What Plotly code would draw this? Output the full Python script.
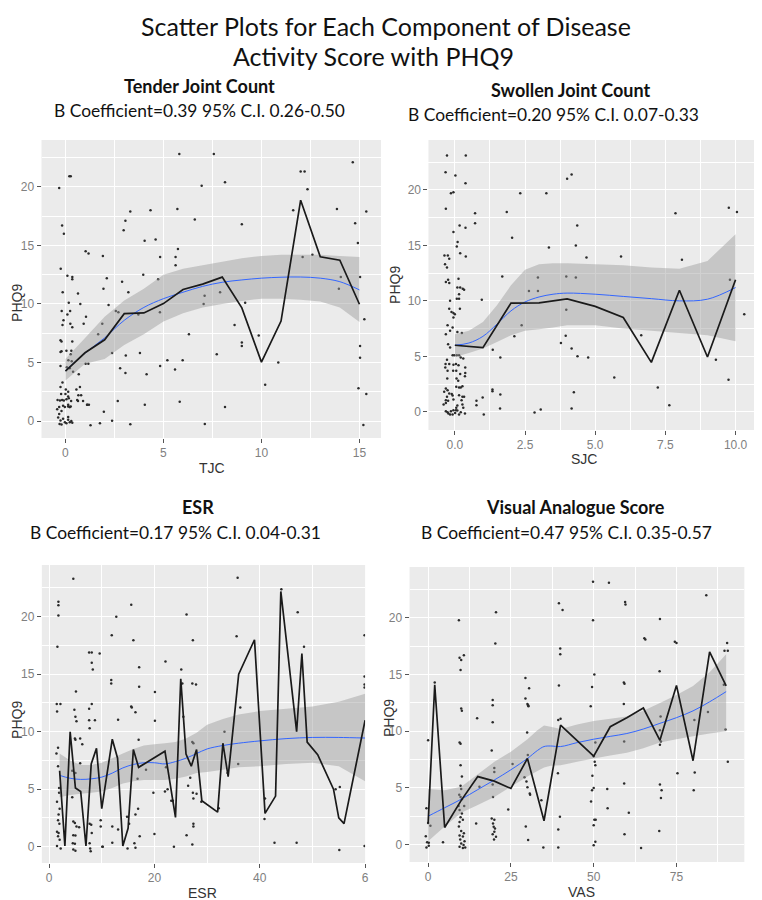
import plotly.graph_objects as go

# ---------------- data: Tender Joint Count ----------------
tjc_x = [-0.32, 0.2, 0.27, -0.17, -0.08, -0.24, 0.1, 0.35, 0.35, -0.14, 0.17, 0.76, -0.19, 0.24, 0.1, -0.1,
         -0.15, 0.25, 0.35, 0.93, -0.25, -0.2, 0.35, -0.25, -0.2, 0.05, 0.3, 0.27, 0.15, 0.32, -0.25, 0.07,
         0.22, 0.39, 0.68, 1.03, 1.17, 1.05, 0.64, 1.03, 1.18, -0.15, -0.25, 0.02, 0.14, -0.22, 0.0, 0.14,
         0.17, 0.29, -0.4, -0.28, -0.17, -0.08, 0.05, -0.32, 0.14, 0.22, 0.56, 0.74, 0.66, 0.6, 1.1, 1.2,
         -0.37, -0.25, -0.12, -0.03, 0.14, 0.22, 0.3, -0.3, -0.2, 0.05, -0.42, -0.32, -0.2, -0.12, -0.03, 0.14,
         0.22, 0.27, 0.64, 0.8, 0.9, 1.12, 0.14, 0.35,
         2.67, 1.88, 2.2, 1.94, 2.11, 1.91, 1.67, 2.38, 2.57, 2.7, 2.79, 3.06, 3.08, 2.89, 3.21, 2.97, 3.06,
         3.31, 3.72, 3.8, 3.97, 4.04, 4.05, 4.14, 4.34, 4.6, 4.73, 4.83, 4.83, 4.82, 5.2, 5.59, 5.62, 5.62,
         5.74, 5.71, 5.81, 5.98, 5.83, 6.3, 6.6, 6.95, 7.05, 7.1, 7.57, 7.72, 7.89, 8.14, 8.14, 8.63, 9.0, 9.0,
         9.0, 9.17, 9.86, 10.19, 10.86, 11.62, 12.1, 12.0, 12.2, 12.35, 12.6, 13.85, 13.95, 14.05, 14.66,
         14.78, 14.92, 15.03, 15.35, 15.25, 15.03, 15.03, 14.95, 15.35, 1.96, 2.38, 1.28, 1.76, 3.31, 7.11,
         15.2]
tjc_y = [19.9, 20.9, 20.9, 16.7, 16.0, 13.0, 12.4, 12.3, 12.1, 11.0, 10.1, 10.0, 9.4, 9.4, 9.1, 8.6,
         8.2, 8.3, 8.0, 8.3, 6.9, 6.8, 6.8, 5.9, 5.95, 6.0, 6.0, 5.7, 5.2, 5.1, 4.7, 4.6,
         4.5, 4.2, 4.0, 4.9, 4.9, 8.9, 10.9, 14.5, 14.3, 3.3, 2.9, 2.7, 2.5, 2.3, 2.3, 2.1,
         1.95, 1.7, 1.8, 1.75, 1.8, 1.75, 1.85, 1.2, 1.25, 1.2, 2.7, 2.9, 2.2, 1.8, 1.4, 1.4,
         0.3, 0.05, 0.2, -0.1, 0.1, -0.1, 0.0, -0.25, -0.3, -0.2, 1.0, 0.6, 0.85, 1.3, 1.2, 1.4,
         1.2, 1.25, 1.7, 2.2, 1.7, 1.4, 0.35, -0.15,
         1.7, 8.3, 9.9, 11.3, 12.2, 14.1, 7.4, 5.8, 9.4, 9.3, 4.5, 4.1, 5.6, 11.9, 11.0, 16.3, 17.1,
         17.9, 9.1, 5.8, 12.5, 15.4, 1.4, 4.0, 18.0, 15.5, 12.1, 14.0, 4.7, 9.3, 5.2, 4.4, 14.0, 13.3,
         14.7, 18.1, 22.8, 5.2, 1.65, 7.4, 17.2, 20.1, 10.0, 10.7, 22.8, 5.7, 11.0, 20.4, 1.2, 8.2, 16.8, 6.7,
         6.4, 10.1, 7.3, 3.1, 5.0, 18.0, 14.0, 21.3, 21.3, 19.8, 14.2, 18.1, 11.3, 12.3, 22.1,
         16.9, 15.2, 12.3, 17.9, 8.7, 6.4, 5.4, 2.8, 2.3, 0.8, 0.03, -0.37, -0.2, -0.28, -0.26,
         -0.34]
tjc_mean_x = list(range(16))
tjc_mean_y = [4.26, 5.83, 6.94, 9.17, 9.23, 10.03, 11.23, 11.69, 12.29, 9.66, 5.03, 8.54, 18.86, 14.03, 13.74, 9.97]
tjc_fit_x = list(range(16))
tjc_fit_y = [4.3, 5.8, 7.1, 8.6, 9.7, 10.45, 11.0, 11.5, 11.85, 12.05, 12.2, 12.28, 12.3, 12.2, 11.9, 11.2]
tjc_hi = [5.3, 7.1, 8.9, 10.3, 11.3, 12.5, 13.0, 13.3, 13.6, 13.9, 14.1, 14.2, 14.2, 14.2, 14.1, 14.0]
tjc_lo = [3.45, 4.9, 5.3, 6.5, 7.4, 8.5, 9.2, 9.7, 10.0, 10.25, 10.45, 10.45, 10.35, 10.2, 9.7, 8.45]

# ---------------- data: Swollen Joint Count ----------------
sjc_x = [-0.28, 0.39, -0.33, 0.02, 0.38, -0.14, -0.05, 2.33, 3.26, -0.32, 0.72, 1.85, 0.17, 0.38, 0.72, -0.05,
         2.04, 0.1, 0.07, 0.19, 0.39, -0.37, -0.25, -0.2, -0.35, -0.28, 1.69, 3.35, 4.0, 4.16, 4.36, 4.31,
         4.69, 3.97, 4.31, 2.96, 2.96, 2.64, 0.96, 5.92, 7.86, 8.09, 9.76, 10.05, 9.8, 10.31, 9.75, 9.3,
         6.64, 5.68, 7.23, 7.64, 3.97, 3.95, 3.78, 4.16, 4.37, 4.75, 4.24, 2.38, 2.12, 1.35, 1.62, 1.34,
         1.34, 1.62, 0.77, 0.99, 0.77, 1.61, 3.06, 4.16, 1.03, 2.84,
         -0.32, -0.24, -0.2, 0.13, 0.09, 0.19, 0.28, 0.33, 0.15, 0.07, 0.15, -0.17, -0.2, -0.12, -0.05, 0.0,
         -0.05, 0.18, -0.26, -0.08, -0.17, 0.09, 0.25, -0.32, -0.24, -0.17, -0.08, -0.02, 0.07, 0.15, 0.21,
         0.3, -0.28, -0.33, -0.2, -0.34, -0.26, -0.05, 0.04, 0.13, 0.37, 0.37, -0.06, 0.05, 0.19, 0.36,
         -0.27, 0.06, 0.12, 0.05, 0.15, 0.21, 0.27, -0.32, -0.26, -0.38, -0.2, -0.11, -0.28, -0.32, -0.24,
         -0.05, 0.15, 0.27, 0.33,
         -0.32, -0.26, -0.23, -0.14, -0.05, 0.04, 0.09, -0.17, -0.08, 0.01, 0.15, 0.21, 0.36, 0.3, 0.09,
         0.05, -0.32, -0.4, -0.08, 0.24, 0.27]
sjc_y = [23.1, 23.1, 21.6, 21.3, 20.6, 19.7, 19.8, 19.7, 19.7, 18.3, 17.9, 18.0, 16.8, 16.6, 17.0, 16.2,
         15.7, 15.3, 14.9, 14.3, 14.0, 14.1, 14.1, 13.8, 13.3, 13.0, 12.2, 14.8, 21.0, 21.4, 16.8, 15.0,
         13.9, 12.2, 12.1, 12.1, 10.9, 10.9, 10.1, 14.0, 17.9, 13.7, 18.4, 18.0, 11.9, 8.8, 2.9, 4.7,
         6.9, 3.1, 2.2, 0.6, 9.2, 6.85, 6.2, 5.7, 5.0, 4.9, 1.76, 7.8, 6.8, 5.6, 4.9, 2.0,
         1.85, 1.56, 1.0, 1.3, 0.6, 0.3, 0.2, 0.3, -0.24, -0.06,
         11.7, 11.9, 11.6, 12.0, 11.2, 11.2, 11.1, 11.0, 10.6, 10.2, 10.2, 10.0, 9.3, 9.0, 8.9, 8.8,
         8.5, 9.3, 7.8, 7.6, 7.3, 7.2, 7.1, 7.0, 6.1, 5.8, 5.1, 5.1, 5.1, 5.1, 4.9,
         4.8, 4.7, 4.3, 4.3, 4.0, 3.7, 4.25, 4.3, 4.2, 4.0, 3.5, 3.7, 3.7, 3.4, 3.2,
         3.0, 3.0, 2.8, 2.25, 2.2, 2.2, 2.3, 2.1, 1.95, 1.8, 1.65, 1.6, 1.35, 1.05, 1.0,
         1.1, 1.5, 1.35, 1.35,
         0.06, -0.03, -0.15, 0.06, 0.15, 0.15, 0.12, -0.24, -0.24, -0.1, -0.24, -0.03, -0.15, 0.36, 0.57,
         0.36, 0.8, 0.66, 1.47, 1.05, 0.66]
sjc_mean_x = list(range(11))
sjc_mean_y = [6.0, 5.78, 9.8, 9.82, 10.18, 9.5, 8.5, 4.46, 10.96, 4.94, 11.9]
sjc_fit_x = [0, 0.5, 1, 1.5, 2, 2.5, 3, 3.5, 4, 5, 6, 7, 8, 9, 10]
sjc_fit_y = [6.0, 6.2, 6.8, 7.9, 9.1, 9.9, 10.35, 10.6, 10.7, 10.6, 10.4, 10.2, 10.0, 10.15, 11.2]
sjc_hi = [7.0, 7.3, 8.1, 9.6, 11.4, 12.8, 13.3, 13.4, 13.4, 13.3, 13.2, 13.0, 12.9, 13.6, 16.0]
sjc_lo = [4.95, 5.3, 5.7, 6.3, 6.9, 7.3, 7.45, 7.6, 7.8, 7.8, 7.5, 7.3, 7.1, 6.9, 6.35]

# ---------------- data: ESR ----------------
esr_x = [4.6, 1.77, 1.77, 1.77, 12.76, 15.6, 26.1, 1.58, 11.9, 16.0, 27.3, 7.6, 8.1, 9.6, 8.1, 8.3,
         17.1, 22.1, 25.1, 11.8, 11.8, 17.1, 20.1, 5.1, 25.3, 27.2, 27.9, 1.46, 1.52, 2.15, 4.8, 5.0,
         5.2, 8.1, 7.6, 7.6, 8.7, 7.7, 13.1, 15.6, 15.7, 16.4, 20.1, 25.5, 1.7, 1.4, 4.9, 5.0, 5.9,
         6.3, 17.0, 27.2, 27.4, 1.7, 5.9, 4.4, 5.0, 18.4, 16.8, 22.2, 22.5, 22.0, 19.8, 26.8, 26.4,
         27.3, 28.0, 27.4, 28.9, 23.2, 23.5, 1.9, 1.9, 1.5, 2.0, 1.8, 1.7, 1.95, 1.5, 1.8, 1.7, 2.0,
         1.5, 2.2, 4.4, 4.6, 4.9, 5.2, 5.7, 4.6, 5.0, 4.5, 4.9, 4.6, 5.0, 7.7, 8.0, 8.1, 7.7, 7.8,
         7.9, 9.8, 9.8, 10.1, 10.2, 12.0, 12.0, 13.1, 14.8, 15.2, 14.9, 16.2, 16.4, 17.2, 16.4, 16.9,
         20.0, 23.7, 26.1, 27.4, 27.4, 27.2,
         35.8, 35.6, 36.3, 35.9, 33.3, 33.9, 32.2, 40.9, 41.0, 42.8, 44.1, 47.2, 48.4, 47.0, 54.4,
         55.2, 55.1, 59.9, 59.9, 59.9, 59.9, 59.9]
esr_y = [23.3, 21.3, 21.0, 20.1, 20.0, 21.05, 20.2, 17.4, 18.4, 17.95, 17.95, 16.9, 16.9, 16.8, 16.0, 15.4,
         15.6, 16.1, 15.4, 14.5, 14.2, 13.9, 13.45, 13.5, 14.2, 14.2, 14.1, 12.4, 11.75, 12.4, 11.9, 11.3,
         10.9, 12.4, 12.0, 11.0, 11.0, 10.3, 11.05, 12.2, 12.1, 11.7, 10.96, 11.3, 8.6, 8.1, 9.4, 9.3, 9.4,
         8.9, 9.3, 9.1, 9.0, 7.0, 7.25, 6.6, 6.4, 6.7, 5.9, 6.9, 5.0, 4.8, 4.7, 6.0, 5.3,
         4.7, 4.6, 4.2, 3.9, 4.0, 4.0, 5.1, 4.7, 3.9, 3.3, 2.8, 2.3, 2.0, 1.3, 1.2, 0.9, 0.6,
         0.06, -0.15, 4.3, 2.2, 2.05, 1.75, 1.7, 1.0, 0.97, 0.3, 0.25, -0.25, -0.35, 2.0, 1.9, 1.2, 0.3, -0.15,
         -0.4, 2.3, 1.75, 0.0, 0.0, 1.75, 0.35, 1.5, 2.6, 2.0, -0.15, 0.3, -0.1, 0.9, 2.8, 3.3,
         1.1, 0.0, 1.0, 2.0, 1.75, 0.2,
         23.4, 18.3, 12.1, 7.2, 10.0, 6.4, 3.35, 2.4, 4.2, 0.35, 22.4, 20.4, 17.4, 0.35, 5.0,
         5.2, -0.3, 18.4, 14.8, 14.1, 13.85, 0.06]
esr_mean_x = [2, 3, 4, 5, 6, 7, 8, 9, 10, 12, 13, 14, 15, 16, 17, 22, 24, 25, 26, 27, 28, 29, 32, 33,
              34, 36, 39, 41, 43, 44, 47, 48, 49, 51, 54, 55, 56, 60]
esr_mean_y = [6.6, 0.06, 10.0, 5.1, 4.8, 0.06, 7.2, 8.55, 3.3, 9.35, 7.7, 0.06, 1.6, 8.45, 6.9, 8.3, 2.55,
              14.6, 8.05, 7.0, 8.45, 4.0, 3.0, 9.0, 6.1, 15.0, 18.0, 2.9, 4.4, 22.2, 10.0, 16.8, 9.1, 8.0,
              5.0, 2.5, 2.0, 11.0]
esr_fit_x = [2, 4, 6, 8, 10, 12, 14, 16, 18, 20, 22, 24, 26, 28, 30, 33, 36, 40, 45, 50, 55, 60]
esr_fit_y = [6.2, 5.95, 5.85, 5.9, 6.05, 6.4, 6.85, 7.15, 7.3, 7.3, 7.2, 7.4, 7.7, 8.1, 8.5, 8.8, 9.0,
             9.2, 9.4, 9.5, 9.5, 9.45]
esr_hi = [8.1, 7.5, 7.1, 7.1, 7.3, 7.7, 8.1, 8.5, 8.8, 8.9, 9.0, 9.1, 9.4, 9.9, 10.6, 11.1, 11.5, 11.8,
          12.0, 12.2, 12.6, 13.3]
esr_lo = [4.3, 4.5, 4.6, 4.7, 4.8, 5.1, 5.5, 5.7, 5.8, 5.8, 5.8, 5.9, 6.1, 6.4, 6.5, 6.7, 6.9, 7.0,
          7.2, 7.3, 7.0, 5.7]

# ---------------- data: Visual Analogue Score ----------------
vas_x = [0, -0.5, 0, 0.7, -0.7, -0.3, 0.2, -0.5, 0.2, 2, 4.5, 9.3, 9.5, 10, 9.8, 10.8, 10, 10.2, 9.5,
         9.8, 9.8, 10.2, 9.8, 10, 9.4, 9.8, 10.2, 9.2, 9.5, 10.2, 9.8, 10.5, 9.5, 9.3, 10, 10.8, 9.5,
         10.5, 9.7, 11, 10, 10.7, 9.5, 11.2, 10.5, 10.9, 14.8, 14.5, 15.5, 20.5, 20.3, 19.5, 19.5, 19.5,
         19.2, 20, 20, 19.5, 19.6, 19.2, 20, 19.6, 19.8, 20.2, 20, 19.5, 20.5, 19.9, 24.2, 25.5, 29.4,
         29.4, 30, 30.2, 30.3, 30.5, 29.9, 30.1, 29.1, 29.7, 30, 30.7, 30.8, 29.5, 30.2, 34.2, 34.8,
         39.5, 40.6, 39.9, 39.9, 39.5, 39.3, 40, 39.2, 39.8, 39.3, 39.3, 49.8, 49.8, 50.2, 49.5, 49.1,
         50.5, 50, 50.3, 50.5, 49.6, 49.5, 50, 49.2, 50.2, 50.6, 50, 50.5, 50, 54.6, 54.1, 54.2, 59.5,
         59.6, 59.1, 59.3, 59.1, 59.2, 59.2, 59.3, 60.6, 65.3, 65.6, 64.3, 70, 69.9, 70, 70.3, 70, 70.2,
         70, 70.5, 70.3, 69.8, 74.5, 75, 75.3, 80.4, 80.5, 80.2, 84, 84.5, 90.3, 90.5, 89.5, 89.8, 90.5,
         89.3]
vas_y = [9.2, 3.2, 1.9, 1.66, 0.74, 0.2, 0.15, -0.27, -0.1, 14.3, 0.2, 19.8, 16.5, 16.3, 15.4, 16.7, 12.0,
         11.8, 9.0, 8.9, 7.0, 6.0, 5.2, 4.9, 4.4, 4.2, 4.0, 3.4, 3.05, 2.75, 2.4, 2.2, 2.0, 1.6, 1.2, 1.0,
         0.8, 0.7, 0.44, 0.3, 0.1, -0.05, -0.2, -0.27, -0.3, 3.4, 11.15, 1.86, 5.1, 20.5, 17.75, 12.75,
         12.3, 10.8, 8.3, 6.75, 6.4, 5.3, 4.2, 2.3, 2.2, 1.86, 1.57, 1.42, 1.12, 0.9, 0.68, 0.44, 3.1, 7.1,
         14.7, 12.9, 12.4, 12.3, 12.2, 13.8, 9.9, 7.9, 5.95, 5.56, 5.06, 4.5, 4.4, 1.6, 0.4, 3.9, -0.27,
         21.3, 20.7, 17.3, 16.8, 14.05, 11.0, 11.1, 6.3, 2.46, 1.33, -0.27, 23.2, 19.8, 15.0, 13.9, 12.2,
         9.0, 7.8, 7.3, 7.0, 6.07, 4.8, 5.0, 3.8, 2.2, 2.2, 1.7, 0.24, -0.06, 23.1, 4.9, 3.2, 21.4, 21.2,
         14.3, 14.2, 12.4, 9.1, 5.4, 0.9, 2.8, 18.2, 18.1, -0.3, 19.9, 15.3, 8.8, 9.1, 10.1, 11.3, 5.3,
         4.8, 4.1, 1.2, 17.9, 17.8, 6.3, 11.0, 6.36, 4.8, 22.0, 11.7, 17.8, 17.1, 17.1, 10.15, 7.3, 14.1]
vas_mean_x = [0, 2, 5, 10, 15, 20, 25, 30, 35, 40, 50, 55, 60, 65, 70, 75, 80, 85, 90]
vas_mean_y = [1.85, 14.1, 1.5, 3.9, 6.0, 5.6, 4.95, 7.6, 2.1, 10.55, 7.8, 10.4, 11.2, 12.05, 9.2, 14.05,
              7.4, 17.0, 14.0]
vas_fit_x = [0, 5, 10, 15, 20, 25, 30, 33, 35, 37, 40, 45, 50, 55, 60, 65, 70, 75, 80, 85, 90]
vas_fit_y = [2.5, 3.25, 4.0, 4.85, 5.7, 6.6, 7.6, 8.3, 8.65, 8.7, 8.65, 9.0, 9.3, 9.55, 9.8, 10.2, 10.7,
             11.2, 11.8, 12.6, 13.5]
vas_hi = [4.9, 4.8, 5.1, 6.2, 7.3, 8.2, 9.3, 10.1, 10.5, 10.4, 10.2, 10.6, 10.9, 11.1, 11.3, 11.8, 12.5,
          13.2, 14.0, 15.2, 16.8]
vas_lo = [0.3, 1.6, 2.8, 3.5, 4.2, 5.1, 6.0, 6.5, 6.8, 6.95, 7.0, 7.3, 7.6, 7.85, 8.1, 8.5, 9.0, 9.3,
          9.55, 9.8, 10.0]

titles = ["Tender Joint Count", "Swollen Joint Count", "ESR", "Visual Analogue Score"]
coef_text = ["B Coefficient=0.39 95% C.I. 0.26-0.50", "B Coefficient=0.20 95% C.I. 0.07-0.33",
             "B Coefficient=0.17 95% C.I. 0.04-0.31", "B Coefficient=0.47 95% C.I. 0.35-0.57"]
x_titles = ["TJC", "SJC", "ESR", "VAS"]

# the page puts the plot 8px in from the top-left corner
OFF = 8
W, H = 754, 892


def px(x):
    return (x - OFF) / W


def py(y):
    return 1 - (y - OFF) / H


fig = go.Figure()

panels = [
    (tjc_x, tjc_y, tjc_mean_x, tjc_mean_y, tjc_fit_x, tjc_fit_y, tjc_hi, tjc_lo),
    (sjc_x, sjc_y, sjc_mean_x, sjc_mean_y, sjc_fit_x, sjc_fit_y, sjc_hi, sjc_lo),
    (esr_x, esr_y, esr_mean_x, esr_mean_y, esr_fit_x, esr_fit_y, esr_hi, esr_lo),
    (vas_x, vas_y, vas_mean_x, vas_mean_y, vas_fit_x, vas_fit_y, vas_hi, vas_lo),
]

for i, (sx, sy, mx, my, fx, fy, hi, lo) in enumerate(panels):
    xa = "x" if i == 0 else "x%d" % (i + 1)
    ya = "y" if i == 0 else "y%d" % (i + 1)
    fig.add_trace(go.Scatter(x=sx, y=sy, mode="markers", xaxis=xa, yaxis=ya,
                             marker=dict(size=2.5, color="#2a2a2a"), showlegend=False))
    fig.add_trace(go.Scatter(x=fx + fx[::-1], y=hi + lo[::-1], fill="toself", mode="none",
                             fillcolor="rgba(153,153,153,0.45)", xaxis=xa, yaxis=ya, showlegend=False))
    fig.add_trace(go.Scatter(x=fx, y=fy, mode="lines", line=dict(color="#3366FF", width=1, shape="spline"),
                             xaxis=xa, yaxis=ya, showlegend=False))
    fig.add_trace(go.Scatter(x=mx, y=my, mode="lines", line=dict(color="#1a1a1a", width=1.7),
                             xaxis=xa, yaxis=ya, showlegend=False))

# panel geometry in screen pixels: (left, right, top, bottom)
boxes = [(41.7, 383, 140, 438), (430.7, 762, 140, 430), (42, 367, 565, 863), (411.7, 748.3, 567, 862)]
x_ranges = [[-1.22, 16.1], [-0.94, 10.8], [-1.38, 60], [-5.6, 95.5]]
y_ranges = [[-1.45, 24.0], [-1.64, 24.5], [-1.42, 24.5], [-1.54, 24.5]]
x_ticks = [[0, 5, 10, 15], [0, 2.5, 5, 7.5, 10], [0, 20, 40, 60], [0, 25, 50, 75]]
x_ticktext = [["0", "5", "10", "15"], ["0.0", "2.5", "5.0", "7.5", "10.0"], ["0", "20", "40", "6"],
              ["0", "25", "50", "75"]]
x_minor = [[2.5, 7.5, 12.5], [1.25, 3.75, 6.25, 8.75], [10, 30, 50], [12.5, 37.5, 62.5, 87.5]]

axis_font = dict(family="Liberation Sans, Arial", size=12, color="#808080")
layout_axes = {}
for i, (l, r, t, b) in enumerate(boxes):
    sfx = "" if i == 0 else str(i + 1)
    layout_axes["xaxis" + sfx] = dict(
        domain=[max(px(l), 0), min(px(r), 1)], anchor="y" + sfx, range=x_ranges[i],
        tickmode="array", tickvals=x_ticks[i], ticktext=x_ticktext[i],
        ticks="outside", ticklen=4, tickwidth=1, tickcolor="#555555", tickfont=axis_font,
        showgrid=True, gridcolor="white", gridwidth=1.3, zeroline=False, showline=False,
        minor=dict(tickmode="array", tickvals=x_minor[i], showgrid=True, gridcolor="white", gridwidth=0.6),
    )
    layout_axes["yaxis" + sfx] = dict(
        domain=[py(b), py(t)], anchor="x" + sfx, range=y_ranges[i],
        tickmode="array", tickvals=[0, 5, 10, 15, 20],
        ticks="outside", ticklen=4, tickwidth=1, tickcolor="#555555", tickfont=axis_font,
        showgrid=True, gridcolor="white", gridwidth=1.3, zeroline=False, showline=False,
        minor=dict(tickmode="array", tickvals=[2.5, 7.5, 12.5, 17.5, 22.5], showgrid=True,
                   gridcolor="white", gridwidth=0.6),
    )

annotations = []
title_font = dict(family="Lato, Open Sans, sans-serif", size=25, color="#111111")
annotations.append(dict(text="Scatter Plots for Each Component of Disease", x=px(388), y=py(9),
                        xref="paper", yref="paper", showarrow=False, font=title_font,
                        xanchor="center", yanchor="top"))
annotations.append(dict(text="Activity Score with PHQ9", x=px(375), y=py(56),
                        xref="paper", yref="paper", showarrow=False, font=title_font,
                        xanchor="center", yanchor="middle"))

# panel headings: (title centre x, title y, coefficient centre x, coefficient y)
head_pos = [(201, 86, 201, 110), (574, 90, 556, 115), (199, 507, 176, 532), (579, 507, 569, 532)]
for i, (tx, ty, cx, cy) in enumerate(head_pos):
    annotations.append(dict(text="<b>%s</b>" % titles[i], x=px(tx), y=py(ty), xref="paper", yref="paper",
                            showarrow=False, xanchor="center", yanchor="middle",
                            font=dict(family="Lato, Open Sans, sans-serif", size=18, color="#111111")))
    annotations.append(dict(text=coef_text[i], x=px(cx), y=py(cy), xref="paper", yref="paper",
                            showarrow=False, xanchor="center", yanchor="middle",
                            font=dict(family="Lato, Open Sans, sans-serif", size=17.4, color="#111111")))

# axis titles
xt_pos = [(213, 468), (587, 459), (204, 893), (585, 892)]
yt_pos = [(17, 303), (397, 285), (17, 720), (391, 718)]
lab_font = dict(family="Liberation Sans, Arial", size=14, color="#333333")
for i in range(4):
    annotations.append(dict(text=x_titles[i], x=px(xt_pos[i][0]), y=py(xt_pos[i][1]), xref="paper",
                            yref="paper", showarrow=False, xanchor="center", yanchor="middle", font=lab_font))
    annotations.append(dict(text="PHQ9", x=px(yt_pos[i][0]), y=py(yt_pos[i][1]), xref="paper",
                            yref="paper", showarrow=False, xanchor="center", yanchor="middle",
                            textangle=-90, font=lab_font))

fig.update_layout(
    width=W, height=H, margin=dict(l=0, r=0, t=0, b=0),
    paper_bgcolor="white", plot_bgcolor="#EBEBEB",
    annotations=annotations, showlegend=False,
    **layout_axes,
)

fig.write_html("out.html")
